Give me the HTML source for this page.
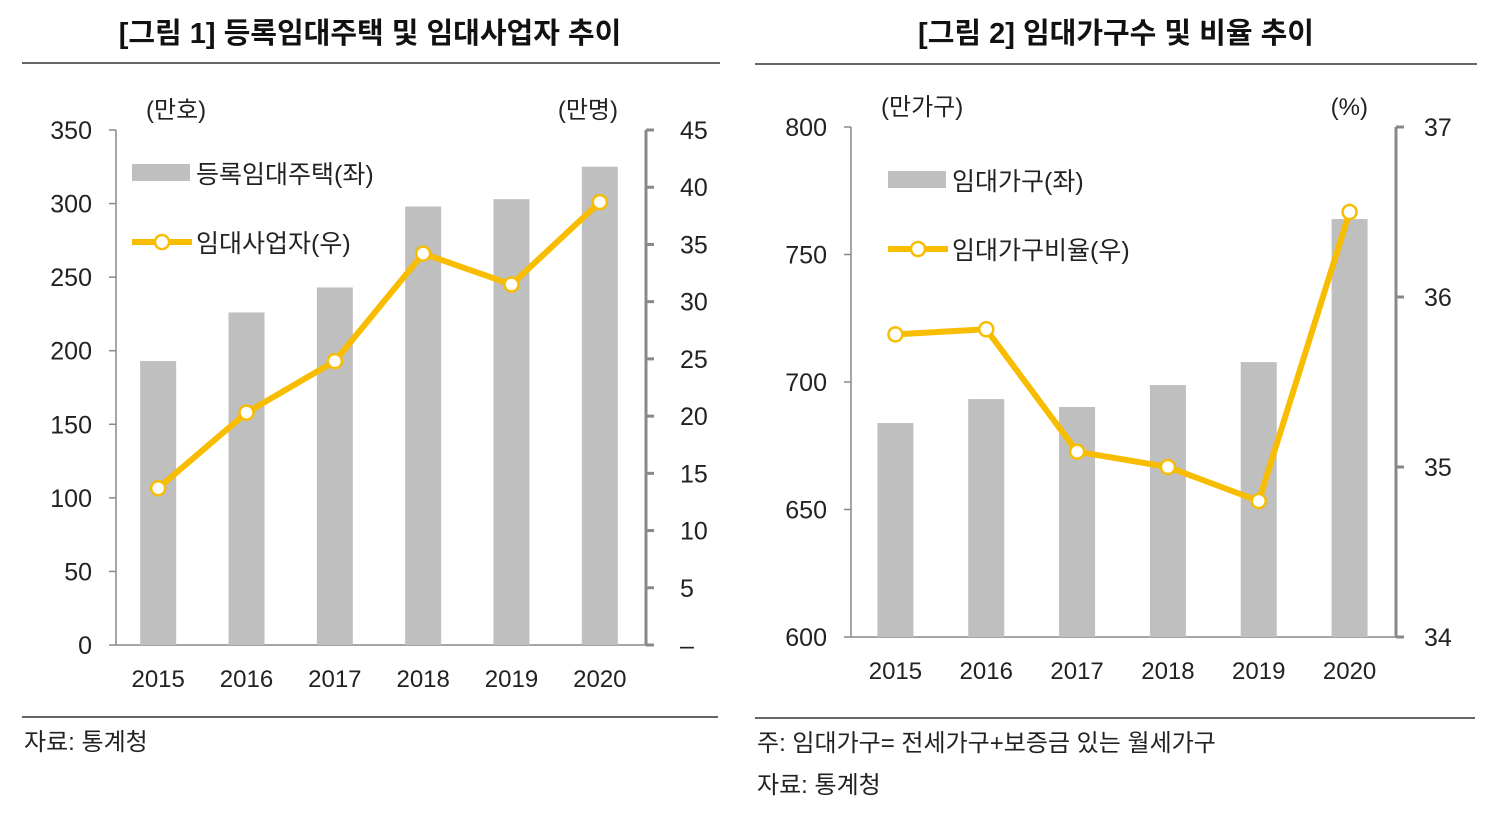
<!DOCTYPE html>
<html><head><meta charset="utf-8">
<style>
html,body{margin:0;padding:0;background:#fff;}
body{width:1497px;height:815px;overflow:hidden;font-family:"Liberation Sans","Noto Sans CJK KR",sans-serif;}
svg text{font-family:"Liberation Sans","Noto Sans CJK KR",sans-serif;}
</style></head>
<body>
<svg id="svg" width="1497" height="815">
<g>
<text x="370" y="43" font-size="29" font-weight="bold" text-anchor="middle" fill="#111">[그림 1] 등록임대주택 및 임대사업자 추이</text>
<line x1="22" y1="63" x2="720" y2="63" stroke="#333" stroke-width="1.5"/>
<line x1="22" y1="717" x2="718" y2="717" stroke="#333" stroke-width="1.5"/>
<text x="24" y="750" font-size="24" fill="#222">자료: 통계청</text>
</g>
<g>
<text x="1116" y="43" font-size="29" font-weight="bold" text-anchor="middle" fill="#111">[그림 2] 임대가구수 및 비율 추이</text>
<line x1="755" y1="64" x2="1477" y2="64" stroke="#333" stroke-width="1.5"/>
<line x1="755" y1="718" x2="1475" y2="718" stroke="#333" stroke-width="1.5"/>
<text x="757" y="751" font-size="24" fill="#222">주: 임대가구= 전세가구+보증금 있는 월세가구</text>
<text x="757" y="793" font-size="24" fill="#222">자료: 통계청</text>
</g>
<g id="c1"></g>
<g id="c2"></g>
</svg>
<script>
const years = ["2015","2016","2017","2018","2019","2020"];
const houses = [193, 226, 243, 298, 303, 325];
const landlords = [13.7, 20.3, 24.8, 34.2, 31.5, 38.7];
const leftTicks1 = [0,50,100,150,200,250,300,350];
const rightTicks1 = [0,5,10,15,20,25,30,35,40,45];
const rentHouseholds = [683.9, 693.3, 690.2, 698.8, 707.8, 763.9];
const rentRatio = [35.78, 35.81, 35.09, 35.0, 34.8, 36.5];
const leftTicks2 = [600,650,700,750,800];
const rightTicks2 = [34,35,36,37];

const NS="http://www.w3.org/2000/svg";
function mk(parent,tag,attrs,text){const e=document.createElementNS(NS,tag);for(const k in attrs)e.setAttribute(k,attrs[k]);if(text!==undefined)e.textContent=text;parent.appendChild(e);return e;}

function draw(g,cfg){
  const yL=v=>cfg.bottom-(v-cfg.lmin)/(cfg.lmax-cfg.lmin)*(cfg.bottom-cfg.top);
  const yR=v=>cfg.bottom-(v-cfg.rmin)/(cfg.rmax-cfg.rmin)*(cfg.bottom-cfg.top);
  const step=(cfg.x1-cfg.x0)/years.length;
  const xC=i=>cfg.x0+step*(i+0.5)+cfg.shift;
  let e;
  e=mk(g,'line',{x1:cfg.x0,y1:cfg.top,x2:cfg.x0,y2:cfg.bottom,stroke:'#888','stroke-width':1.5});
  
  e=mk(g,'line',{x1:cfg.x0,y1:cfg.bottom,x2:cfg.x1,y2:cfg.bottom,stroke:'#888','stroke-width':1.5});
  
  e=mk(g,'line',{x1:cfg.x1,y1:cfg.top,x2:cfg.x1,y2:cfg.bottom,stroke:'#888','stroke-width':3});
  
  cfg.lt.forEach(t=>{
    e=mk(g,'line',{x1:cfg.x0-7,y1:yL(t),x2:cfg.x0,y2:yL(t),stroke:'#888','stroke-width':1.5});
    
    e=mk(g,'text',{x:cfg.x0-24,y:yL(t)+9,'font-size':25,'text-anchor':'end',fill:'#222'},String(t));
    
  });
  cfg.rt.forEach(t=>{
    e=mk(g,'line',{x1:cfg.x1,y1:yR(t),x2:cfg.x1+8,y2:yR(t),stroke:'#888','stroke-width':3});
    
    e=mk(g,'text',{x:cfg.x1+cfg.rlx,y:yR(t)+9,'font-size':25,fill:'#222'},(cfg.dash&&t===0)?'–':String(t));
    
  });
  years.forEach((y,i)=>{
    e=mk(g,'text',{x:xC(i),y:cfg.bottom+42,'font-size':24,'text-anchor':'middle',fill:'#222'},y);
    
    e=mk(g,'rect',{x:xC(i)-18,y:yL(cfg.bars[i]),width:36,height:cfg.bottom-yL(cfg.bars[i]),fill:'#bfbfbf'});
    
  });
  e=mk(g,'polyline',{points:cfg.line.map((v,i)=>xC(i)+','+yR(v)).join(' '),fill:'none',stroke:'#f8bc00','stroke-width':6,'stroke-linejoin':'round'});
  
  cfg.line.forEach((v,i)=>{
    e=mk(g,'circle',{cx:xC(i),cy:yR(v),r:7,fill:'#fff',stroke:'#f8bc00','stroke-width':2.5});
    
  });
  e=mk(g,'text',{x:cfg.x0+30,y:cfg.top-12,'font-size':24,fill:'#222'},cfg.lu);
  
  e=mk(g,'text',{x:cfg.x1-28,y:cfg.top-12,'font-size':24,'text-anchor':'end',fill:'#222'},cfg.ru);
  
  e=mk(g,'rect',{x:cfg.lgx,y:cfg.lgy-9,width:58,height:17,fill:'#bfbfbf'});
  
  e=mk(g,'text',{x:cfg.lgx+64,y:cfg.lgy+10,'font-size':25,fill:'#222'},cfg.lb);
  
  e=mk(g,'line',{x1:cfg.lgx,y1:cfg.lgy+69,x2:cfg.lgx+60,y2:cfg.lgy+69,stroke:'#f8bc00','stroke-width':6});
  
  e=mk(g,'circle',{cx:cfg.lgx+30,cy:cfg.lgy+69,r:7,fill:'#fff',stroke:'#f8bc00','stroke-width':2.5});
  
  e=mk(g,'text',{x:cfg.lgx+64,y:cfg.lgy+79,'font-size':25,fill:'#222'},cfg.ll);
  
}
draw(document.getElementById('c1'),{x0:116,x1:646,top:130,bottom:645,lmin:0,lmax:350,rmin:0,rmax:45,lt:leftTicks1,rt:rightTicks1,bars:houses,line:landlords,shift:-2,rlx:34,dash:true,lu:'(만호)',ru:'(만명)',lgx:132,lgy:173,lb:'등록임대주택(좌)',ll:'임대사업자(우)'});
draw(document.getElementById('c2'),{x0:851,x1:1396,top:127,bottom:637,lmin:600,lmax:800,rmin:34,rmax:37,lt:leftTicks2,rt:rightTicks2,bars:rentHouseholds,line:rentRatio,shift:-1,rlx:28,dash:false,lu:'(만가구)',ru:'(%)',lgx:888,lgy:180,lb:'임대가구(좌)',ll:'임대가구비율(우)'});
</script>
</body></html>
